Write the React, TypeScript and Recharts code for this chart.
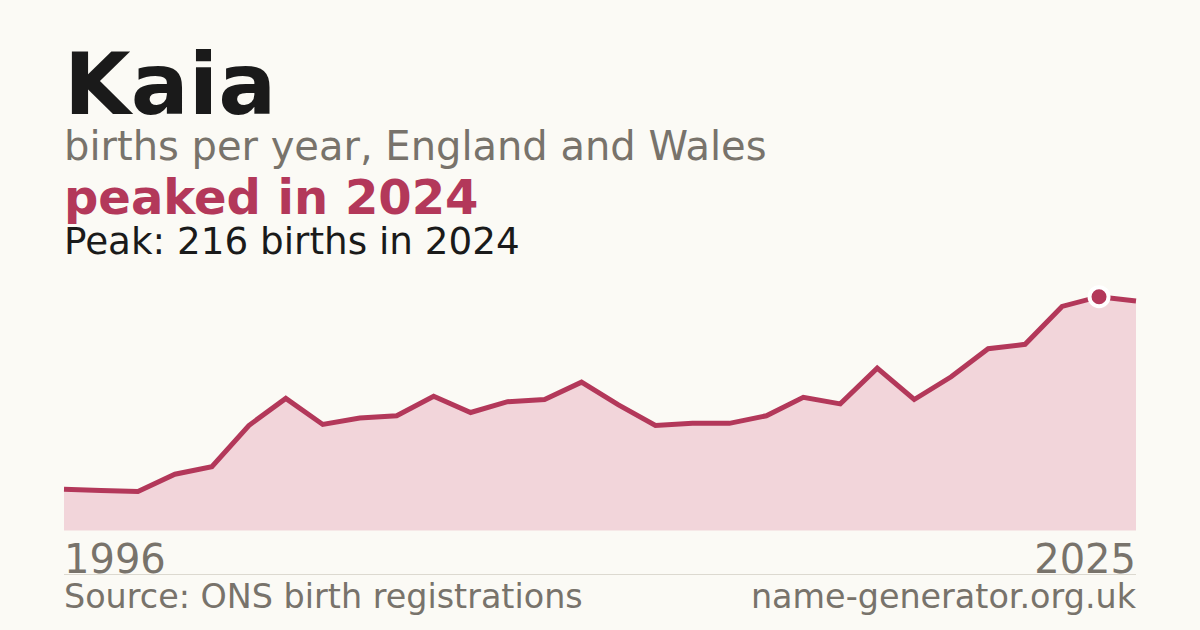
import React from "react";
import { AreaChart, Area, XAxis, YAxis } from "recharts";

const years = [
    1996, 1997, 1998, 1999, 2000, 2001, 2002, 2003, 2004, 2005, 2006, 2007,
    2008, 2009, 2010, 2011, 2012, 2013, 2014, 2015, 2016, 2017, 2018, 2019,
    2020, 2021, 2022, 2023, 2024, 2025,
];
const births = [
    38, 37, 36, 52, 59, 97, 122, 98, 104, 106, 124, 109, 119, 121, 137, 116,
    97, 99, 99, 106, 123, 117, 150, 121, 142, 168, 172, 207, 216, 212,
];
const edgeTicks = [1996, 2025];
const peakYear = 2024;

const data = years.map((year, i) => ({ year, births: births[i] }));

const FONT = "'DejaVu Sans', sans-serif";
const RED = "#b3385a";
const GREY = "#78736b";

const YearTick = (props: any) => {
    const { x, y, payload } = props;
    const last = payload.value === edgeTicks[edgeTicks.length - 1];
    return (
        <text
            x={x}
            y={y + 40}
            textAnchor={last ? "end" : "start"}
            fill={GREY}
            fontSize={40}
            fontFamily={FONT}
        >
            {payload.value}
        </text>
    );
};

const PeakDot = (props: any) => {
    const { cx, cy, payload, index } = props;
    if (payload.year !== peakYear) return <g key={index} />;
    return (
        <circle
            key={index}
            cx={cx}
            cy={cy}
            r={9.5}
            fill={RED}
            stroke="#ffffff"
            strokeWidth={4}
        />
    );
};

export default function App() {
    return (
        <div
            style={{
                position: "absolute",
                left: 0,
                top: 0,
                width: 1200,
                height: 630,
                background: "#fbfaf5",
                overflow: "hidden",
            }}
        >
            <svg
                width={1200}
                height={630}
                style={{ position: "absolute", left: 0, top: 0 }}
                fontFamily={FONT}
            >
                <text x={64} y={114} fontSize={86} fontWeight={700} fill="#1a1a1a">
                    Kaia
                </text>
                <text x={64} y={160} fontSize={40} fill={GREY}>
                    births per year, England and Wales
                </text>
                <text x={64} y={214} fontSize={48} fontWeight={700} fill={RED}>
                    peaked in 2024
                </text>
                <text x={64} y={254} fontSize={37.3} fill="#1a1a1a">
                    Peak: 216 births in 2024
                </text>
                <line x1={64} x2={1136} y1={574.5} y2={574.5} stroke="#dcd9d0" strokeWidth={1} />
                <text x={64} y={608} fontSize={33.4} fill={GREY}>
                    Source: ONS birth registrations
                </text>
                <text x={1136} y={608} fontSize={33.4} fill={GREY} textAnchor="end">
                    name-generator.org.uk
                </text>
            </svg>
            <div style={{ position: "absolute", left: 0, top: 0 }}>
                <AreaChart
                    width={1200}
                    height={630}
                    data={data}
                    margin={{ top: 296.7, right: 64, left: 64, bottom: 0 }}
                >
                    <XAxis
                        dataKey="year"
                        type="number"
                        domain={[1996, 2025]}
                        ticks={edgeTicks}
                        axisLine={false}
                        tickLine={false}
                        tickSize={0}
                        height={99.5}
                        tick={<YearTick />}
                        interval={0}
                    />
                    <YAxis hide domain={[0, 216]} />
                    <Area
                        type="linear"
                        dataKey="births"
                        stroke={RED}
                        strokeWidth={5}
                        fill="#f2d5da"
                        fillOpacity={1}
                        dot={<PeakDot />}
                        activeDot={false}
                        isAnimationActive={false}
                    />
                </AreaChart>
            </div>
        </div>
    );
}
